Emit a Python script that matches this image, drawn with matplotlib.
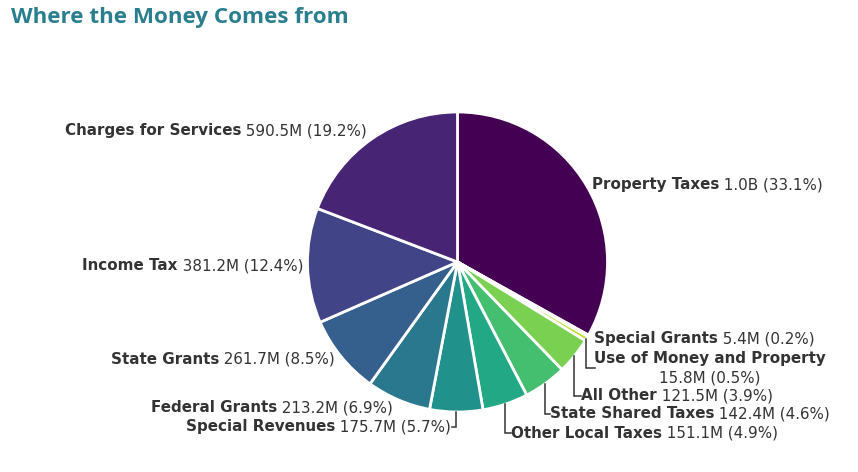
import matplotlib
matplotlib.use("Agg")
import matplotlib.pyplot as plt
import numpy as np

# ---- data (clockwise from 12 o'clock) ----
categories = ["Property Taxes", "Special Grants", "Use of Money and Property", "All Other",
              "State Shared Taxes", "Other Local Taxes", "Special Revenues", "Federal Grants",
              "State Grants", "Income Tax", "Charges for Services"]
values_m = [1018.5, 5.4, 15.8, 121.5, 142.4, 151.1, 175.7, 213.2, 261.7, 381.2, 590.5]
value_labels = ["1.0B", "5.4M", "15.8M", "121.5M", "142.4M", "151.1M", "175.7M", "213.2M",
                "261.7M", "381.2M", "590.5M"]
colors = ["#440154", "#fde725", "#bddf26", "#7ad151", "#44bf70", "#22a884", "#21918c",
          "#2a788e", "#355f8d", "#414487", "#482475"]

# ---- layout (pixels, top-left origin) ----
W, H = 858, 472
CX, CY, R = 457.5, 262.0, 150.0
# label anchor: (x, y, alignment); alignment 'left' / 'right' / 'center2' (two lines)
label_layout = [
    (592, 185, "left"), (594, 339, "left"), (710, 368, "center2"), (581, 396, "left"),
    (550, 414, "left"), (511, 433, "left"), (451, 427, "right"), (393, 408, "right"),
    (335, 359, "right"), (303, 266, "right"), (367, 131, "right"),
]
# connectors: which labels get an elbow leader (end x offset)
elbow = {2: 595, 3: 581, 4: 550, 5: 511, 6: 452}

fig = plt.figure(figsize=(W / 100, H / 100), dpi=100)
fig.patch.set_facecolor("white")

pie_ax = fig.add_axes([(CX - R) / W, (H - CY - R) / H, 2 * R / W, 2 * R / H])
pie_ax.pie(values_m, colors=colors, startangle=90, counterclock=False, radius=1,
           wedgeprops=dict(edgecolor="white", linewidth=2))
pie_ax.set_xlim(-1, 1)
pie_ax.set_ylim(-1, 1)
pie_ax.set_aspect("equal")
pie_ax.axis("off")

lab = fig.add_axes([0, 0, 1, 1])
lab.set_xlim(0, W)
lab.set_ylim(H, 0)
lab.axis("off")
lab.patch.set_alpha(0)

fig.text(11 / W, 1 - 18 / H, "Where the Money Comes from", fontsize=16.1, fontweight="bold",
         color="#2a7f8e", family="Open Sans", va="center", ha="left")

FS = 10.9
TC = "#333333"
renderer = fig.canvas.get_renderer()
inv = lab.transData.inverted()


def width_of(t):
    bb = t.get_window_extent(renderer)
    p0 = inv.transform((bb.x0, bb.y0))
    p1 = inv.transform((bb.x1, bb.y0))
    return p1[0] - p0[0]


total = sum(values_m)
cum = 0.0
for i, (cat, v, vl) in enumerate(zip(categories, values_m, value_labels)):
    pct = v / total * 100
    mid = (cum + v / 2) / total * 2 * np.pi
    cum += v
    ex, ey = CX + R * np.sin(mid), CY - R * np.cos(mid)
    x, y, al = label_layout[i]
    val = f" {vl} ({pct:.1f}%)"
    if al == "left":
        t1 = lab.text(x, y, cat, fontsize=FS, fontweight="bold", color=TC, ha="left", va="center")
        w1 = width_of(t1)
        lab.text(x + w1, y, val, fontsize=FS, color=TC, ha="left", va="center")
    elif al == "right":
        t2 = lab.text(x, y, val, fontsize=FS, color=TC, ha="right", va="center")
        w2 = width_of(t2)
        lab.text(x - w2, y, cat, fontsize=FS, fontweight="bold", color=TC, ha="right", va="center")
    else:
        lab.text(x, y - 10, cat, fontsize=FS, fontweight="bold", color=TC, ha="center", va="center")
        lab.text(x, y + 10, val.strip(), fontsize=FS, color=TC, ha="center", va="center")
    if i in elbow:
        lx = elbow[i]
        lab.plot([ex, ex, lx], [ey, y, y], color="#333333", lw=1.1, solid_joinstyle="miter")

fig.savefig("out.png", dpi=100, facecolor="white")
